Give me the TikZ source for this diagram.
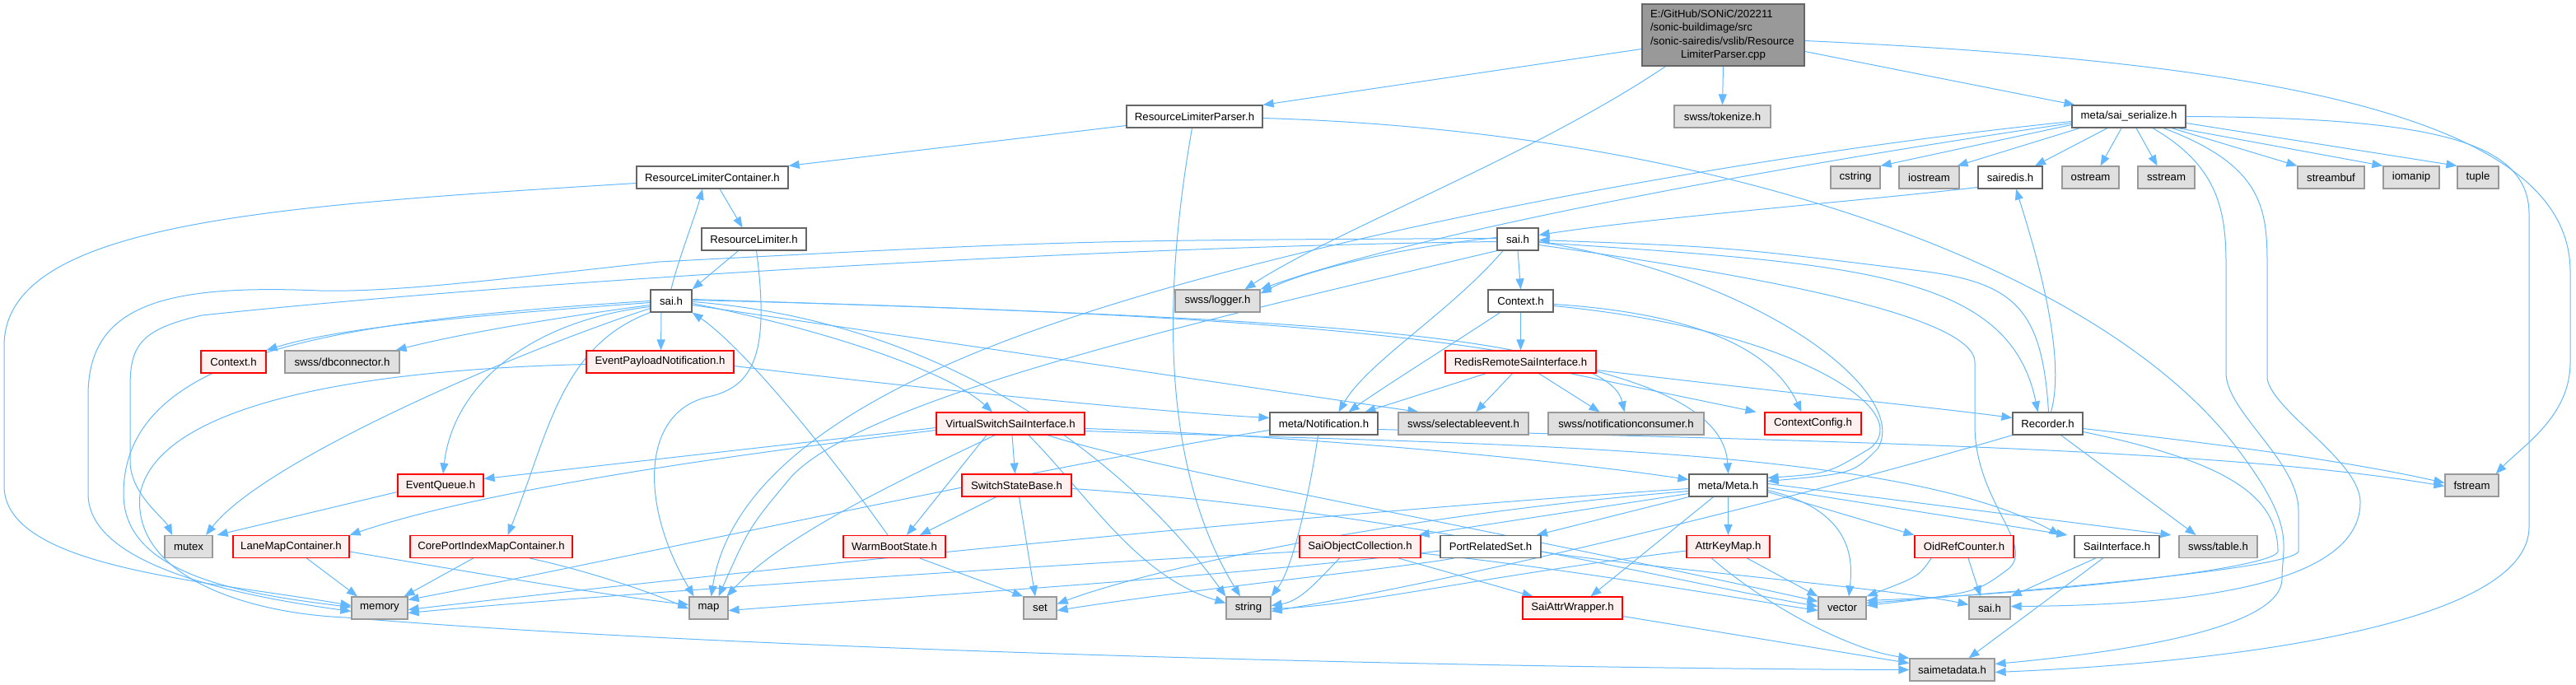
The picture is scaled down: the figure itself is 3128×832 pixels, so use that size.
\documentclass[tikz,border=0pt]{standalone}
\usepackage{fontspec}
\setmainfont{Liberation Sans}
\usetikzlibrary{arrows.meta}
\definecolor{edgec}{HTML}{63B8FF}
\definecolor{redfill}{HTML}{FFF0F0}
\definecolor{grayfill}{HTML}{E0E0E0}
\definecolor{grayline}{HTML}{999999}
\definecolor{darkline}{HTML}{666666}
\definecolor{mainfill}{HTML}{999999}
\pgfdeclarelayer{background}
\pgfsetlayers{background,main}
\begin{document}
\begin{tikzpicture}[x=1pt,y=-1pt,
  box/.style={draw=darkline, fill=white, line width=1.2pt, minimum height=27pt, inner sep=0pt, font=\fontsize{13.2}{16.3}\selectfont},
  redbox/.style={box, draw=red, fill=redfill},
  graybox/.style={box, draw=grayline, fill=grayfill},
  e/.style={draw=edgec, line width=1.0pt, -{Triangle[length=13pt,width=10pt]}}]
\useasboundingbox (0,0) rectangle (3128,832);
% ---- nodes ----
\node[box, fill=mainfill, minimum width=197pt, minimum height=75pt, text width=177pt, align=left] (M) at (2092.5,42.5)
  {E:/GitHub/SONiC/202211\\/sonic-buildimage/src\\/sonic-sairedis/vslib/Resource\\\makebox[177pt][c]{LimiterParser.cpp}};
\node[box, minimum width=165pt] (rlp) at (1450.5,141.5) {ResourceLimiterParser.h};
\node[graybox, minimum width=117pt] (tok) at (2091.5,141.5) {swss/tokenize.h};
\node[box, minimum width=138pt] (ser) at (2585,141.5) {meta/sai\_serialize.h};
\node[box, minimum width=184pt] (rlc) at (865,215.5) {ResourceLimiterContainer.h};
\node[graybox, minimum width=60pt] (cstr) at (2253,215.5) {cstring};
\node[graybox, minimum width=73pt] (iost) at (2342.5,215.5) {iostream};
\node[box, minimum width=78pt] (sred) at (2441,215.5) {sairedis.h};
\node[graybox, minimum width=69pt] (ostr) at (2538.5,215.5) {ostream};
\node[graybox, minimum width=69pt] (sstr) at (2630.5,215.5) {sstream};
\node[graybox, minimum width=81pt] (sbuf) at (2830.5,215.5) {streambuf};
\node[graybox, minimum width=68pt] (ioman) at (2928,215.5) {iomanip};
\node[graybox, minimum width=50pt] (tupl) at (3009,215.5) {tuple};
\node[box, minimum width=127pt] (rl) at (915.5,290.5) {ResourceLimiter.h};
\node[box, minimum width=50pt] (saiT) at (1843,290.5) {sai.h};
\node[box, minimum width=50pt] (saiL) at (815,365.5) {sai.h};
\node[graybox, minimum width=103pt] (logg) at (1478.5,365.5) {swss/logger.h};
\node[box, minimum width=79pt] (ctxW) at (1846.5,365.5) {Context.h};
\node[redbox, minimum width=79pt] (ctxR) at (283.5,439.5) {Context.h};
\node[graybox, minimum width=139pt] (dbc) at (415.5,439.5) {swss/dbconnector.h};
\node[redbox, minimum width=179pt] (epn) at (801.5,439.5) {EventPayloadNotification.h};
\node[redbox, minimum width=183pt] (rrsi) at (1846.5,439.5) {RedisRemoteSaiInterface.h};
\node[redbox, minimum width=180pt] (vssi) at (1227,514.5) {VirtualSwitchSaiInterface.h};
\node[box, minimum width=131pt] (notif) at (1607.5,514.5) {meta/Notification.h};
\node[graybox, minimum width=158pt] (selev) at (1777,514.5) {swss/selectableevent.h};
\node[graybox, minimum width=189pt] (ncons) at (1974.5,514.5) {swss/notificationconsumer.h};
\node[redbox, minimum width=117pt] (ccfg) at (2201.5,514.5) {ContextConfig.h};
\node[box, minimum width=85pt] (rec) at (2486.5,514.5) {Recorder.h};
\node[redbox, minimum width=104pt] (eq) at (535,589.5) {EventQueue.h};
\node[redbox, minimum width=133pt] (ssb) at (1234.5,589.5) {SwitchStateBase.h};
\node[box, minimum width=95pt] (meta) at (2098.5,589.5) {meta/Meta.h};
\node[graybox, minimum width=65pt] (fstr) at (3001.5,589.5) {fstream};
\node[graybox, minimum width=58pt] (mutx) at (229,664) {mutex};
\node[redbox, minimum width=141pt] (lmc) at (353.5,664) {LaneMapContainer.h};
\node[redbox, minimum width=197pt] (cpimc) at (596.5,664) {CorePortIndexMapContainer.h};
\node[redbox, minimum width=124pt] (wbs) at (1086,664) {WarmBootState.h};
\node[redbox, minimum width=147pt] (soc) at (1651.5,664) {SaiObjectCollection.h};
\node[box, minimum width=122pt] (prs) at (1810,664) {PortRelatedSet.h};
\node[redbox, minimum width=101pt] (akm) at (2098.5,664) {AttrKeyMap.h};
\node[redbox, minimum width=120pt] (orc) at (2385,664) {OidRefCounter.h};
\node[box, minimum width=103pt] (saiif) at (2570.5,664) {SaiInterface.h};
\node[graybox, minimum width=95pt] (tabl) at (2693.5,664) {swss/table.h};
\node[graybox, minimum width=68pt] (mem) at (461,738.5) {memory};
\node[graybox, minimum width=47pt] (nmap) at (860.5,738.5) {map};
\node[graybox, minimum width=40pt] (nset) at (1263,738.5) {set};
\node[graybox, minimum width=54pt] (str) at (1516,738.5) {string};
\node[redbox, minimum width=121pt] (saw) at (1909.5,738.5) {SaiAttrWrapper.h};
\node[graybox, minimum width=58pt] (vec) at (2237,738.5) {vector};
\node[graybox, minimum width=50pt] (saiG) at (2416,738.5) {sai.h};
\node[graybox, minimum width=103pt] (smd) at (2370.5,813.5) {saimetadata.h};
% ---- edges ----
\begin{pgfonlayer}{background}
% main file
\draw[e] ([yshift=-17]M.west) -- (rlp.north east);
\draw[e] (M.south) -- (tok.north);
\draw[e] ([yshift=-20]M.east) -- ([xshift=4]ser.north west);
\draw[e] ([yshift=-7]M.east) .. controls (2750,75) and (3121,140) .. (3121,330) -- (3121,440) .. controls (3121,505) and (3065,540) .. ([xshift=-4]fstr.north east);
\draw[e] ([xshift=-70]M.south) .. controls (1860,190) and (1620,280) .. ([xshift=33]logg.north);
% ResourceLimiterParser.h
\draw[e] ([yshift=-11]rlp.west) -- (rlc.north east);
\draw[e] ([xshift=-3]rlp.south) .. controls (1415,340) and (1405,560) .. ([xshift=-10]str.north);
\draw[e] ([yshift=-2]rlp.east) .. controls (2100,160) and (2550,330) .. (2713,540) .. controls (2790,640) and (2771,660) .. (2771,703) .. controls (2771,760) and (2600,790) .. ([yshift=7]smd.east);
% ResourceLimiterContainer.h
\draw[e] ([xshift=9]rlc.south) -- ([xshift=-14]rl.north);
\draw[e] ([yshift=-7]rlc.west) .. controls (330,250) and (5,270) .. (5,420) -- (5,590) .. controls (5,690) and (250,705) .. ([yshift=3]mem.west);
% ResourceLimiter.h
\draw[e] ([xshift=-19]rl.south) -- (saiL.north east);
\draw[e] ([xshift=3]rl.south) .. controls (935,430) and (915,470) .. (860,482) .. controls (780,500) and (775,610) .. ([xshift=-18]nmap.north);
% sai.h (left)
\draw[e] (saiL.north) .. controls (822,320) and (845,260) .. ([xshift=-12]rlc.south);
\draw[e] ([yshift=-2]saiL.west) .. controls (620,380) and (420,395) .. (ctxR.north east);
\draw[e] ([yshift=-5]saiL.west) .. controls (680,385) and (560,405) .. ([xshift=-5]dbc.north east);
\draw[e] ([xshift=-12]saiL.south) -- ([xshift=1]epn.north);
\draw[e] ([yshift=-9]saiL.west) .. controls (620,430) and (320,560) .. ([xshift=21]mutx.north);
\draw[e] ([yshift=-7]saiL.west) .. controls (640,390) and (550,470) .. ([xshift=3]eq.north);
\draw[e] (saiL.west) .. controls (400,390) and (150,430) .. (150,600) .. controls (150,700) and (300,722) .. ([yshift=1]mem.west);
\draw[e] (saiL.south west) .. controls (680,420) and (665,530) .. ([xshift=20]cpimc.north);
\draw[e] ([yshift=-3]saiL.east) .. controls (1000,400) and (1150,450) .. ([xshift=-22]vssi.north);
\draw[e] ([yshift=-1]saiL.east) .. controls (1150,390) and (1370,560) .. (str.north west);
\draw[e] ([yshift=-5]saiL.east) -- ([xshift=25]selev.north west);
\draw[e] ([yshift=2]saiL.east) .. controls (1500,385) and (1950,400) .. ([xshift=-2]ncons.north);
\draw[e] ([yshift=1]saiL.east) .. controls (1700,385) and (2090,430) .. (meta.north);
% meta/sai_serialize.h
\draw[e] ([yshift=-10]ser.west) -- (cstr.north east);
\draw[e] ([xshift=10]ser.south west) -- ([xshift=-3]iost.north east);
\draw[e] ([xshift=-26]ser.south) -- ([xshift=30]sred.north);
\draw[e] ([xshift=-9]ser.south) -- ([xshift=12]ostr.north);
\draw[e] ([xshift=9]ser.south) -- ([xshift=-11]sstr.north);
\draw[e] ([xshift=52]ser.south) -- (sbuf.north west);
\draw[e] ([xshift=-10]ser.south east) -- (ioman.north west);
\draw[e] ([yshift=-8]ser.east) -- (tupl.north west);
\draw[e] (ser.east) .. controls (2950,143) and (3071,170) .. (3071,260) -- (3071,640) .. controls (3071,760) and (2700,805) .. ([yshift=-3]smd.east);
\draw[e] ([yshift=-6]ser.west) .. controls (2100,190) and (1500,300) .. (1188,427) .. controls (960,520) and (880,620) .. ([xshift=3]nmap.north);
\draw[e] ([yshift=-8]ser.west) .. controls (2100,210) and (1700,290) .. (logg.north east);
\draw[e] ([xshift=29]ser.south) .. controls (2690,200) and (2703,250) .. (2703,320) -- (2703,453) .. controls (2703,500) and (2791,560) .. (2791,620) -- (2791,670) .. controls (2780,690) and (2500,715) .. ([yshift=6]vec.east);
\draw[e] ([xshift=42]ser.south) .. controls (2745,200) and (2753,250) .. (2753,320) -- (2753,460) .. controls (2760,500) and (2866,560) .. (2866,610) .. controls (2866,700) and (2700,735) .. ([yshift=2]saiG.east);
% sairedis.h / Recorder.h
\draw[e] ([yshift=-12]sred.west) .. controls (2250,245) and (2000,265) .. ([yshift=5]saiT.east);
\draw[e] ([xshift=4]rec.north) .. controls (2510,430) and (2470,300) .. ([xshift=7]sred.south);
\draw[e] ([yshift=-4]saiT.east) .. controls (2250,320) and (2440,330) .. ([xshift=-12]rec.north);
\draw[e] ([xshift=1]rec.north) .. controls (2480,380) and (2450,345) .. (2340,330) .. controls (2100,300) .. ([yshift=-1]saiT.east);
\draw[e] ([xshift=16]rec.south) -- ([xshift=-27]tabl.north);
\draw[e] ([yshift=-6]rec.east) .. controls (2700,540) and (2850,560) .. ([yshift=3]fstr.west);
\draw[e] ([yshift=-10]rec.east) .. controls (2700,560) and (2766,600) .. (2766,670) .. controls (2760,690) and (2500,720) .. ([yshift=9]vec.east);
\draw[e] (rec.south west) .. controls (2200,600) and (1800,700) .. ([yshift=-4]str.east);
% sai.h (top)
\draw[e] (saiT.south) -- (ctxW.north);
\draw[e] ([xshift=-18]saiT.south) .. controls (1760,380) and (1660,440) .. ([xshift=18]notif.north);
\draw[e] ([yshift=2]saiT.west) .. controls (1700,300) and (1580,330) .. ([yshift=9]logg.east);
\draw[e] ([yshift=1]saiT.west) .. controls (1300,292) .. (800,318) .. controls (600,340) and (480,355) .. (388,353) .. controls (200,345) and (107,370) .. (107,480) -- (107,600) .. controls (107,690) and (300,725) .. ([yshift=-4]mem.west);
\draw[e] ([yshift=-3]saiT.west) .. controls (1300,300) and (600,345) .. (245,383) .. controls (170,400) and (158,420) .. (158,470) -- (158,560) .. controls (158,600) and (200,630) .. ([xshift=-20]mutx.north);
\draw[e] (saiT.south west) .. controls (1500,380) and (1050,480) .. (960,580) .. controls (910,640) .. ([xshift=12]nmap.north);
\draw[e] ([yshift=-3]saiT.east) .. controls (2150,340) and (2320,480) .. (2280,545) .. controls (2250,575) .. ([yshift=5]meta.east);
\draw[e] ([yshift=-7]saiT.east) .. controls (2100,330) and (2398,380) .. (2398,440) -- (2398,520) .. controls (2400,610) and (2470,660) .. (2440,690) .. controls (2400,720) .. ([yshift=3]vec.east);
% Context.h (white)
\draw[e] (ctxW.south) -- (rrsi.north);
\draw[e] ([xshift=-25]ctxW.south) .. controls (1760,420) and (1680,470) .. ([xshift=30]notif.north);
\draw[e] ([yshift=-4]ctxW.east) .. controls (2050,380) and (2150,420) .. ([xshift=-14]ccfg.north);
\draw[e] ([yshift=-6]ctxW.east) .. controls (2180,400) and (2330,500) .. (2270,545) .. controls (2220,575) .. ([yshift=9]meta.east);
% RedisRemoteSaiInterface.h
\draw[e] ([xshift=-42]rrsi.south) -- ([xshift=50]notif.north);
\draw[e] ([xshift=-10]rrsi.south) -- ([xshift=15]selev.north);
\draw[e] ([xshift=22]rrsi.south) -- ([xshift=-32]ncons.north);
\draw[e] ([xshift=60]rrsi.south) -- ([xshift=-10]ccfg.north west);
\draw[e] ([yshift=-10]rrsi.east) .. controls (2150,475) and (2350,495) .. ([yshift=7]rec.west);
% meta/Notification.h
\draw[e] ([yshift=-8]notif.west) .. controls (1300,560) and (700,690) .. ([yshift=10]mem.east);
\draw[e] ([xshift=-7]notif.south) .. controls (1590,600) and (1570,690) .. (str.north east);
\draw[e] ([yshift=-7]notif.east) .. controls (2200,535) and (2700,545) .. ([yshift=-1]fstr.west);
% EventPayloadNotification.h
\draw[e] ([yshift=-5]epn.east) .. controls (1100,470) and (1400,500) .. ([yshift=7]notif.west);
\draw[e] ([yshift=-3]epn.west) .. controls (400,450) and (190,500) .. (170,600) .. controls (160,700) and (300,745) .. (420,750) .. controls (900,790) and (1800,812) .. (smd.west);
% VirtualSwitchSaiInterface.h
\draw[e] ([yshift=-5]vssi.west) -- ([yshift=8]eq.east);
\draw[e] ([yshift=-8]vssi.west) .. controls (950,545) and (600,590) .. (lmc.north east);
\draw[e] ([xshift=2]vssi.south) -- ([xshift=-2]ssb.north);
\draw[e] ([xshift=-29]vssi.south) -- ([xshift=15]wbs.north);
\draw[e] ([xshift=-19]vssi.south) .. controls (1100,580) and (950,650) .. ([xshift=22]nmap.north);
\draw[e] ([xshift=22]vssi.south) .. controls (1320,600) and (1380,700) .. ([yshift=6]str.west);
\draw[e] ([xshift=45]vssi.south) .. controls (1400,570) and (1800,640) .. ([yshift=8]vec.west);
\draw[e] ([yshift=-6]vssi.east) .. controls (1600,530) and (1900,560) .. ([yshift=7]meta.west);
\draw[e] ([yshift=-9]vssi.east) .. controls (1800,540) and (2300,540) .. ([xshift=-17]saiif.north west);
% SwitchStateBase.h
\draw[e] ([xshift=-25]ssb.south) -- ([xshift=31]wbs.north);
\draw[e] ([xshift=3]ssb.south) -- ([xshift=-6]nset.north);
\draw[e] ([yshift=-4]ssb.east) .. controls (1700,620) and (2000,700) .. ([yshift=2]vec.west);
% WarmBootState.h
\draw[e] ([xshift=31]wbs.south) -- (nset.north west);
\draw[e] ([xshift=-8]wbs.north) .. controls (1000,540) and (900,420) .. (saiL.south east);
% small containers
\draw[e] ([yshift=-8]eq.west) -- ([xshift=5]mutx.north east);
\draw[e] ([xshift=19]lmc.south) -- ([xshift=-27]mem.north);
\draw[e] ([yshift=-6]lmc.east) .. controls (600,700) and (750,725) .. ([yshift=4]nmap.west);
\draw[e] ([xshift=-22]cpimc.south) -- ([xshift=-5]mem.north east);
\draw[e] ([xshift=47]cpimc.south) .. controls (700,690) and (780,715) .. ([yshift=-1]nmap.west);
% meta/Meta.h
\draw[e] ([yshift=-4]meta.west) .. controls (1500,630) and (800,705) .. ([yshift=-2]mem.east);
\draw[e] ([yshift=-10]meta.west) -- ([xshift=-3]soc.north east);
\draw[e] (meta.south west) -- ([xshift=56]prs.north);
\draw[e] ([xshift=-18]meta.south) -- ([xshift=22]saw.north);
\draw[e] (meta.south) -- (akm.north);
\draw[e] ([yshift=-8]meta.east) -- (orc.north west);
\draw[e] ([yshift=-3]meta.east) -- ([xshift=-8]saiif.north west);
\draw[e] ([yshift=2]meta.east) -- ([xshift=-9]tabl.north west);
\draw[e] ([yshift=-6]meta.east) .. controls (2250,620) and (2250,680) .. ([xshift=8]vec.north);
\draw[e] ([yshift=-7]meta.west) .. controls (1700,625) and (1400,690) .. ([yshift=5]nset.east);
% SaiObjectCollection.h
\draw[e] ([yshift=-6]soc.west) .. controls (1200,690) and (700,725) .. ([yshift=-6]mem.east);
\draw[e] ([xshift=47]soc.south) -- ([xshift=-48]saw.north);
\draw[e] ([xshift=-25]soc.south) .. controls (1600,705) and (1580,730) .. ([yshift=3]str.east);
\draw[e] ([yshift=-8]soc.east) .. controls (1900,690) and (2100,725) .. ([yshift=-3]vec.west);
% PortRelatedSet.h
\draw[e] ([yshift=-6]prs.east) .. controls (2000,690) and (2300,715) .. ([yshift=4]saiG.west);
\draw[e] ([xshift=-45]prs.south) .. controls (1700,690) and (1450,715) .. ([yshift=-3]nset.east);
\draw[e] ([yshift=-5]prs.west) .. controls (1500,700) and (1100,725) .. ([yshift=-3]nmap.east);
% AttrKeyMap.h
\draw[e] ([xshift=23]akm.south) -- (vec.north west);
\draw[e] ([xshift=-20]akm.south) .. controls (2150,740) and (2250,790) .. (smd.north west);
\draw[e] ([yshift=-5]akm.west) .. controls (1800,700) and (1650,735) .. ([yshift=-1]str.east);
% OidRefCounter.h
\draw[e] ([xshift=-40]orc.south) .. controls (2330,700) .. (vec.north east);
\draw[e] ([xshift=5]orc.south) -- ([xshift=-11]saiG.north);
% SaiInterface.h
\draw[e] ([xshift=-26]saiif.south) -- (saiG.north east);
\draw[e] ([xshift=-17]saiif.south) -- ([xshift=20]smd.north);
% SaiAttrWrapper.h
\draw[e] ([yshift=-10]saw.east) -- ([yshift=8]smd.west);
\end{pgfonlayer}
\end{tikzpicture}
\end{document}
